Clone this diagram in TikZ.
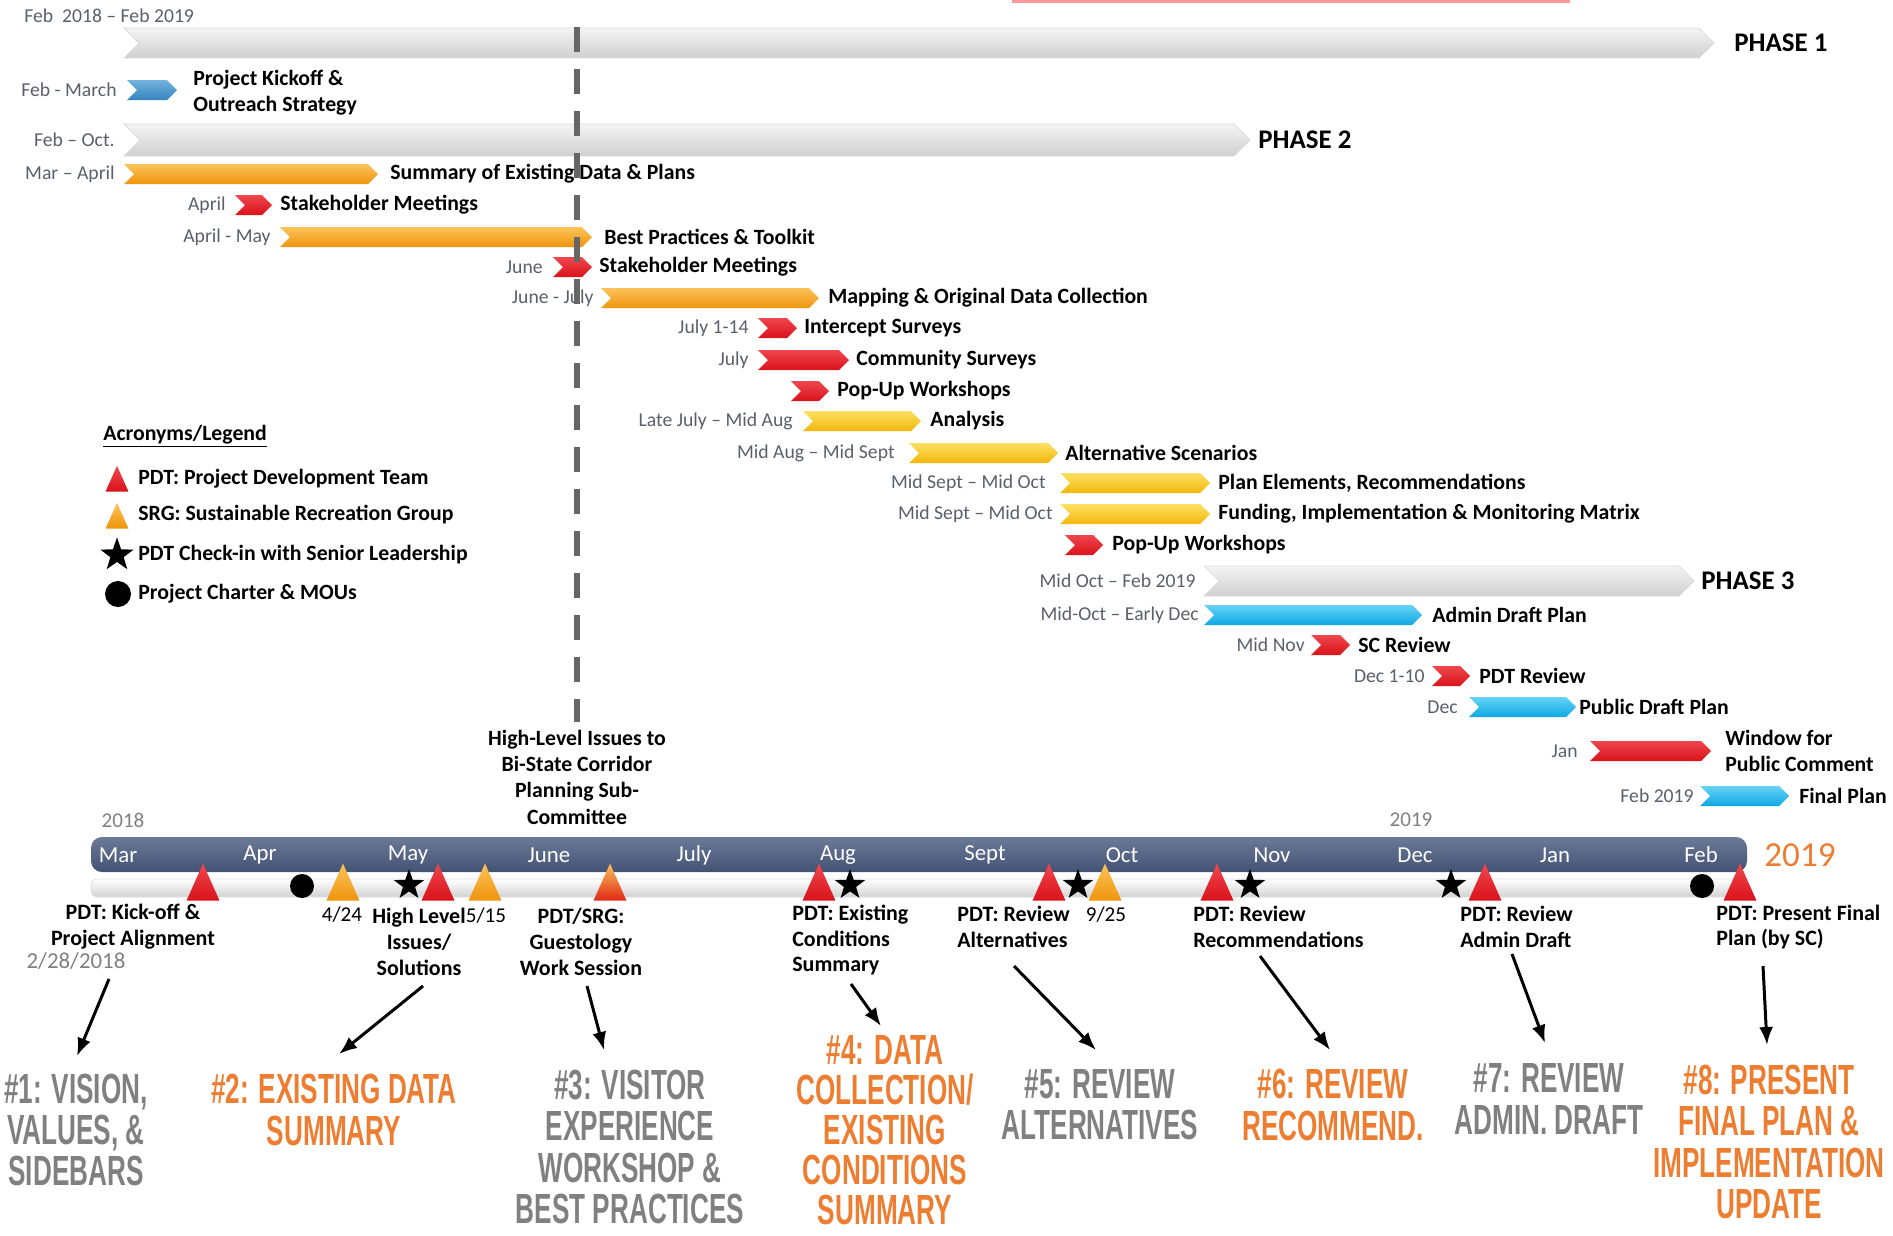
\documentclass[tikz,border=0pt]{standalone}
\usepackage{fontspec}
\setmainfont{Carlito}
\newfontfamily\bigfont{Liberation Sans}[FakeStretch=0.62]
\usetikzlibrary{arrows.meta,positioning,shapes.geometric}
\definecolor{orangeTop}{HTML}{FAC35A}
\definecolor{orangeBot}{HTML}{F0940C}
\definecolor{redTop}{HTML}{F0474E}
\definecolor{redBot}{HTML}{D9121B}
\definecolor{yellowTop}{HTML}{FCE063}
\definecolor{yellowBot}{HTML}{F2B70A}
\definecolor{cyanTop}{HTML}{66D2F6}
\definecolor{cyanBot}{HTML}{0FA8E3}
\definecolor{steelTop}{HTML}{72B2DD}
\definecolor{steelBot}{HTML}{3585BE}
\definecolor{phaseTop}{HTML}{F4F4F4}
\definecolor{phaseBot}{HTML}{CFCFCF}
\definecolor{dateGray}{HTML}{59606B}
\definecolor{tlTop}{HTML}{6C7A98}
\definecolor{tlBot}{HTML}{435174}
\definecolor{hiOrange}{HTML}{ED7D31}
\definecolor{hiGray}{HTML}{808080}
% chevron: style, x start, x end, y, half height
\newcommand{\chev}[5]{%
  \path[#1] (#2,#4-#5) -- (#3-#5,#4-#5) -- (#3,#4) -- (#3-#5,#4+#5)
    -- (#2,#4+#5) -- (#2+#5,#4) -- cycle;}

\begin{document}
\begin{tikzpicture}[
    x=0.02cm,y=-0.02cm,
    >={Latex[length=0.36cm,width=0.28cm]},
    every node/.style={inner sep=0pt},
    lbl/.style={anchor=west,font=\fontsize{12.4}{15}\selectfont\bfseries,align=left},
    dt/.style={anchor=east,text=dateGray,font=\fontsize{11.2}{13}\selectfont},
    phase/.style={anchor=west,font=\fontsize{15.3}{18}\selectfont\bfseries},
    mslbl/.style={font=\fontsize{12.5}{14.7}\selectfont\bfseries,align=center},
    msdate/.style={font=\fontsize{12}{14}\selectfont},
    month/.style={text=white,font=\fontsize{13}{15}\selectfont},
    yr/.style={text=hiGray,font=\fontsize{12}{14}\selectfont},
    big/.style={font=\bigfont\bfseries\fontsize{24}{23.5}\selectfont,align=center},
    chevGray/.style={top color=phaseTop,bottom color=phaseBot,draw=gray!30},
    chevOrange/.style={top color=orangeTop,bottom color=orangeBot},
    chevRed/.style={top color=redTop,bottom color=redBot},
    chevYellow/.style={top color=yellowTop,bottom color=yellowBot},
    chevCyan/.style={top color=cyanTop,bottom color=cyanBot},
    chevSteel/.style={top color=steelTop,bottom color=steelBot},
    pdt/.style={isosceles triangle,isosceles triangle apex angle=48,shape border rotate=90,
      minimum width=0.66cm,minimum height=0.66cm,top color=redTop,bottom color=redBot,anchor=south},
    srg/.style={pdt,top color=orangeTop,bottom color=orangeBot},
    chk/.style={star,star points=5,star point ratio=2.5,fill=black,minimum size=0.64cm},
    mou/.style={circle,fill=black,minimum size=0.48cm},
    pointer/.style={->,line width=1.7pt}
  ]
  \useasboundingbox (0,0) rectangle (1893,1235);
  \fill[red!40] (1012,0) rectangle (1570,3);

  %% Phases and tasks
  \node[dt,anchor=west] (span) at (24,16) {Feb\ \ 2018 -- Feb 2019};
  \chev{chevGray}{124}{1714}{43}{15}
  \node[phase] (ph1) at (1734,43) {PHASE 1};

  \chev{chevSteel}{127}{177}{90}{10}
  \node[dt] (d01) at (117,90) {Feb - March};
  \node[lbl] (t01) at (193,93) {Project Kickoff \&\\Outreach Strategy};

  \chev{chevGray}{124}{1250}{140}{16}
  \node[dt] (d02) at (115,140) {Feb -- Oct.};
  \node[phase] (ph2) at (1258,140) {PHASE 2};

  \chev{chevOrange}{124}{378}{174}{10}
  \node[dt] (d03) at (115,174) {Mar -- April};
  \node[lbl] (t03) at (390,174) {Summary of Existing Data \& Plans};

  \chev{chevRed}{235}{272}{205}{10}
  \node[dt] (d04) at (226,205) {April};
  \node[lbl] (t04) at (280,205) {Stakeholder Meetings};

  \chev{chevOrange}{280}{592}{237}{10}
  \node[dt] (d05) at (271,237) {April - May};
  \node[lbl] (t05) at (604,237) {Best Practices \& Toolkit};

  \chev{chevRed}{553}{592}{267}{10}
  \node[dt] (d06) at (543,267) {June};
  \node[lbl] (t06) at (599,267) {Stakeholder Meetings};

  \chev{chevOrange}{601}{819}{298}{10}
  \node[dt] (d07) at (594,298) {June - July};
  \node[lbl] (t07) at (828,298) {Mapping \& Original Data Collection};

  \chev{chevRed}{758}{797}{328}{10}
  \node[dt] (d08) at (749,328) {July 1-14};
  \node[lbl] (t08) at (804,328) {Intercept Surveys};

  \chev{chevRed}{758}{849}{360}{10}
  \node[dt] (d09) at (749,360) {July};
  \node[lbl] (t09) at (856,360) {Community Surveys};

  \chev{chevRed}{791}{829}{391}{10}
  \node[lbl] (t10) at (837,391) {Pop-Up Workshops};

  \chev{chevYellow}{803}{921}{421}{10}
  \node[dt] (d11) at (793,421) {Late July -- Mid Aug};
  \node[lbl] (t11) at (930,421) {Analysis};

  \chev{chevYellow}{909}{1058}{453}{10}
  \node[dt] (d12) at (895,453) {Mid Aug -- Mid Sept};
  \node[lbl] (t12) at (1065,453) {Alternative Scenarios};

  \chev{chevYellow}{1060}{1210}{483}{10}
  \node[dt] (d13) at (1046,483) {Mid Sept -- Mid Oct};
  \node[lbl] (t13) at (1218,483) {Plan Elements, Recommendations};

  \chev{chevYellow}{1060}{1210}{514}{10}
  \node[dt] (d14) at (1053,514) {Mid Sept -- Mid Oct};
  \node[lbl] (t14) at (1218,514) {Funding, Implementation \& Monitoring Matrix};

  \chev{chevRed}{1065}{1103}{545}{10}
  \node[lbl] (t15) at (1112,545) {Pop-Up Workshops};

  \chev{chevGray}{1204}{1694}{581}{15}
  \node[dt] (d16) at (1196,581) {Mid Oct -- Feb 2019};
  \node[phase] (ph3) at (1701,581) {PHASE 3};

  \chev{chevCyan}{1204}{1422}{615}{10}
  \node[dt] (d17) at (1199,615) {Mid-Oct -- Early Dec};
  \node[lbl] (t17) at (1432,615) {Admin Draft Plan};

  \chev{chevRed}{1311}{1350}{645}{10}
  \node[dt] (d18) at (1305,645) {Mid Nov};
  \node[lbl] (t18) at (1358,645) {SC Review};

  \chev{chevRed}{1432}{1470}{676}{10}
  \node[dt] (d19) at (1425,676) {Dec 1-10};
  \node[lbl] (t19) at (1479,676) {PDT Review};

  \chev{chevCyan}{1469}{1576}{707}{10}
  \node[dt] (d20) at (1458,707) {Dec};
  \node[lbl] (t20) at (1579,707) {Public Draft Plan};

  \chev{chevRed}{1590}{1711}{751}{10}
  \node[dt] (d21) at (1578,751) {Jan};
  \node[lbl] (t21) at (1725,751) {Window for\\Public Comment};

  \chev{chevCyan}{1700}{1789}{796}{10}
  \node[dt] (d22) at (1694,796) {Feb 2019};
  \node[lbl] (t22) at (1799,796) {Final Plan};

  %% Hand-off to corridor sub-committee
  \coordinate (dtop) at (577,27);
  \coordinate (dbot) at (577,722);
  \draw[black!60,line width=0.12cm,dash pattern=on 0.5cm off 0.34cm] (dtop) -- (dbot);
  \node[mslbl,font=\fontsize{12.4}{15}\selectfont\bfseries] (bistate) at (577,777)
    {High-Level Issues to\\Bi-State Corridor\\Planning Sub-\\Committee};

  %% Legend
  \node[anchor=west,font=\fontsize{12.4}{14}\selectfont\bfseries] (leg) at (103,436) {\underline{Acronyms/Legend}};
  \node[pdt,minimum width=0.46cm,minimum height=0.46cm] (lg1) at (117,492) {};
  \node[lbl] (lt1) at (138,479) {PDT: Project Development Team};
  \node[srg,minimum width=0.46cm,minimum height=0.46cm] (lg2) at (117,529) {};
  \node[lbl] (lt2) at (138,515) {SRG: Sustainable Recreation Group};
  \node[chk,minimum size=0.7cm] (lg3) at (117,555) {};
  \node[lbl] (lt3) at (138,555) {PDT Check-in with Senior Leadership};
  \node[mou,minimum size=0.52cm] (lg4) at (118,594) {};
  \node[lbl] (lt4) at (138,594) {Project Charter \& MOUs};

  %% Timeline
  \shade[top color=tlTop,bottom color=tlBot,rounded corners=0.22cm] (91,837) rectangle (1747,872);
  \shade[top color=white,bottom color=gray!35,draw=gray!25,rounded corners=0.12cm] (91,879) rectangle (1747,897);
  \foreach \mx/\mn in {118/Mar,260/Apr,408/May,549/June,694/July,838/Aug,
                       985/Sept,1122/Oct,1272/Nov,1415/Dec,1555/Jan,1701/Feb}
    \node[month] (m\mn) at (\mx,855) {\mn};
  \node[yr] (y18) at (123,820) {2018};
  \node[yr] (y19) at (1411,820) {2019};
  \node[text=hiOrange,font=\fontsize{20}{22}\selectfont] (y19b) at (1800,855) {2019};

  %% Milestones
  \node[pdt] (k1) at (203,901) {};
  \node[mou] (c1) at (302,886) {};
  \node[srg] (s1) at (343,901) {};
  \node[chk] (h1) at (409,885) {};
  \node[pdt] (k2) at (438,901) {};
  \node[srg] (s2) at (485,901) {};
  \node[srg,bottom color=redBot!80!orange] (s3) at (610,901) {};
  \node[pdt] (k3) at (819,901) {};
  \node[chk] (h2) at (850,885) {};
  \node[pdt] (k4) at (1049,901) {};
  \node[chk] (h3) at (1078,885) {};
  \node[srg] (s4) at (1105,901) {};
  \node[pdt] (k5) at (1217,901) {};
  \node[chk] (h4) at (1250,885) {};
  \node[chk] (h5) at (1451,885) {};
  \node[pdt] (k6) at (1485,901) {};
  \node[mou] (c2) at (1702,886) {};
  \node[pdt] (k7) at (1740,901) {};

  \node[mslbl] (l1) at (133,927) {PDT: Kick-off \&\\Project Alignment};
  \node[yr,font=\fontsize{13}{15}\selectfont] (l1d) at (76,961) {2/28/2018};
  \node[msdate] (l2a) at (342,915) {4/24};
  \node[mslbl] (l2) at (419,942) {High Level\\Issues/\\Solutions};
  \node[msdate] (l2b) at (486,916) {5/15};
  \node[mslbl] (l3) at (581,942) {PDT/SRG:\\Guestology\\Work Session};
  \node[mslbl,anchor=west,align=left] (l4) at (792,940) {PDT: Existing\\Conditions\\Summary};
  \node[mslbl,anchor=west,align=left] (l5) at (957,927) {PDT: Review\\Alternatives};
  \node[msdate] (l5d) at (1106,915) {9/25};
  \node[mslbl,anchor=west,align=left] (l6) at (1193,927) {PDT: Review\\Recommendations};
  \node[mslbl,anchor=west,align=left] (l7) at (1460,927) {PDT: Review\\Admin Draft};
  \node[mslbl,anchor=west,align=left] (l8) at (1716,927) {PDT: Present Final\\Plan (by SC)};

  %% Deliverables
  \node[big,text=hiGray] (b1) at (76,1130) {\#1: VISION,\\VALUES, \&\\SIDEBARS};
  \node[big,text=hiOrange] (b2) at (334,1110) {\#2: EXISTING DATA\\SUMMARY};
  \node[big,text=hiGray] (b3) at (630,1147) {\#3: VISITOR\\EXPERIENCE\\WORKSHOP \&\\BEST PRACTICES};
  \node[big,text=hiOrange,font=\bigfont\bfseries\fontsize{24}{22.8}\selectfont] (b4) at (885,1130)
    {\#4: DATA\\COLLECTION/\\EXISTING\\CONDITIONS\\SUMMARY};
  \node[big,text=hiGray] (b5) at (1100,1105) {\#5: REVIEW\\ALTERNATIVES};
  \node[big,text=hiOrange] (b6) at (1333,1105) {\#6: REVIEW\\RECOMMEND.};
  \node[big,text=hiGray] (b7) at (1549,1099) {\#7: REVIEW\\ADMIN. DRAFT};
  \node[big,text=hiOrange] (b8) at (1769,1142) {\#8: PRESENT\\FINAL PLAN \&\\IMPLEMENTATION\\UPDATE};

  \coordinate (p1s) at (109,979);  \coordinate (p1e) at (77,1056);
  \coordinate (p2s) at (423,986);  \coordinate (p2e) at (339,1054);
  \coordinate (p3s) at (587,986);  \coordinate (p3e) at (604,1050);
  \coordinate (p4s) at (851,984);  \coordinate (p4e) at (881,1026);
  \coordinate (p5s) at (1014,966); \coordinate (p5e) at (1096,1050);
  \coordinate (p6s) at (1260,956); \coordinate (p6e) at (1330,1050);
  \coordinate (p7s) at (1512,954); \coordinate (p7e) at (1545,1043);
  \coordinate (p8s) at (1763,966); \coordinate (p8e) at (1767,1045);
  \foreach \i in {1,...,8}
    \draw[pointer] (p\i s) -- (p\i e);
\end{tikzpicture}
\end{document}
